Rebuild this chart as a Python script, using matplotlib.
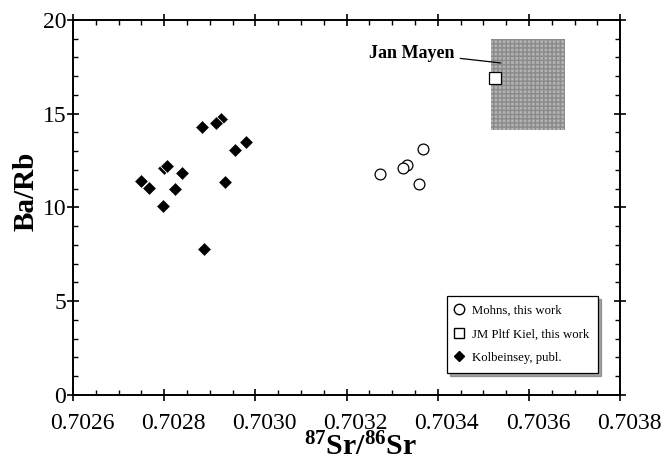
import matplotlib
matplotlib.use('Agg')
import matplotlib.pyplot as plt
from matplotlib.patches import Rectangle
from matplotlib.lines import Line2D
from matplotlib.ticker import MultipleLocator, FormatStrFormatter
from matplotlib.transforms import ScaledTranslation

plt.rcParams['font.family'] = ['Liberation Serif', 'DejaVu Serif']
plt.rcParams['mathtext.fontset'] = 'custom'
plt.rcParams['mathtext.bf'] = 'Liberation Serif:bold'
plt.rcParams['mathtext.rm'] = 'Liberation Serif'

# Kolbeinsey, published
kol_sr = [0.702925, 0.702749, 0.702767, 0.702797, 0.702800, 0.702806, 0.702823,
          0.702840, 0.702883, 0.702887, 0.702914, 0.702934, 0.702956, 0.702980]
kol_barb = [14.72, 11.41, 11.06, 10.08, 12.08, 12.20, 10.99,
            11.82, 14.29, 7.79, 14.49, 11.36, 13.08, 13.51]

# Mohns, this work
mohns_sr = [0.703273, 0.703332, 0.703324, 0.703359, 0.703367]
mohns_barb = [11.77, 12.27, 12.12, 11.23, 13.10]

# JM Pltf Kiel, this work
jm_sr = [0.703525]
jm_barb = [16.92]

# Jan Mayen field
jm_field_sr = (0.703516, 0.703680)
jm_field_barb = (14.13, 18.99)

fig = plt.figure(figsize=(6.64, 4.63), dpi=100)
ax = fig.add_axes([0.110, 0.1469, 0.824, 0.8099])

ax.add_patch(Rectangle((jm_field_sr[0], jm_field_barb[0]),
                       jm_field_sr[1] - jm_field_sr[0],
                       jm_field_barb[1] - jm_field_barb[0],
                       facecolor='#b2b2b2', edgecolor='#8a8a8a', hatch='++++',
                       linewidth=0, zorder=1))

ax.plot(kol_sr, kol_barb, 'D', color='black', markersize=7.5,
        markeredgecolor='white', markeredgewidth=0.6, zorder=3)
ax.plot(mohns_sr, mohns_barb, 'o', markerfacecolor='white',
        markeredgecolor='black', markersize=7.8, markeredgewidth=0.9, zorder=3)
ax.plot(jm_sr, jm_barb, 's', markerfacecolor='white',
        markeredgecolor='black', markersize=9, markeredgewidth=0.9, zorder=4)

# Jan Mayen label and leader line
ax.annotate('Jan Mayen', xy=(0.703538, 17.71), xytext=(0.703437, 18.24),
            ha='right', va='center', fontsize=13, fontweight='bold',
            arrowprops=dict(arrowstyle='-', color='black', lw=0.9,
                            shrinkA=2, shrinkB=0))

ax.set_xlim(0.7026, 0.7038)
ax.set_ylim(0, 20)
ax.xaxis.set_major_locator(MultipleLocator(0.0002))
ax.xaxis.set_minor_locator(MultipleLocator(0.00005))
ax.xaxis.set_major_formatter(FormatStrFormatter('%.4f'))
ax.yaxis.set_major_locator(MultipleLocator(5))
ax.yaxis.set_minor_locator(MultipleLocator(1))

ax.tick_params(which='major', direction='inout', length=8, width=1.2,
               top=True, right=True, labelsize=17)
ax.tick_params(axis='x', which='major', pad=9)
ax.tick_params(axis='y', which='major', pad=1)
ax.tick_params(which='minor', direction='in', length=3.8, width=1.0,
               top=True, right=True)
for s in ax.spines.values():
    s.set_linewidth(1.4)

# x tick labels sit a little right of their ticks in the original
shift = ScaledTranslation(9 / 100, 0, fig.dpi_scale_trans)
for t in ax.xaxis.get_major_ticks():
    t.label1.set_transform(t.label1.get_transform() + shift)

ax.set_xlabel(r'$\mathbf{^{87}Sr/^{86}Sr}$', fontsize=21.5)
ax.xaxis.set_label_coords(0.525, -0.102)
ax.set_ylabel('Ba/Rb', fontsize=21, fontweight='bold')
ax.yaxis.set_label_coords(-0.062, 0.544)

handles = [
    Line2D([], [], marker='o', linestyle='none', markerfacecolor='white',
           markeredgecolor='black', markersize=7.5),
    Line2D([], [], marker='s', linestyle='none', markerfacecolor='white',
           markeredgecolor='black', markersize=7.5),
    Line2D([], [], marker='D', linestyle='none', color='black', markersize=5.5),
]
labels = ['Mohns, this work', 'JM Pltf Kiel, this work', 'Kolbeinsey, publ.']
leg = ax.legend(handles, labels, loc='upper left',
                bbox_to_anchor=(0.683, 0.264),
                fontsize=9.2, frameon=True, fancybox=False, shadow=True,
                handlelength=0.5, handletextpad=0.8, labelspacing=0.9,
                borderpad=0.7, borderaxespad=0)
leg.get_frame().set_edgecolor('black')
leg.get_frame().set_linewidth(0.9)

fig.savefig('out.png', dpi=100)
